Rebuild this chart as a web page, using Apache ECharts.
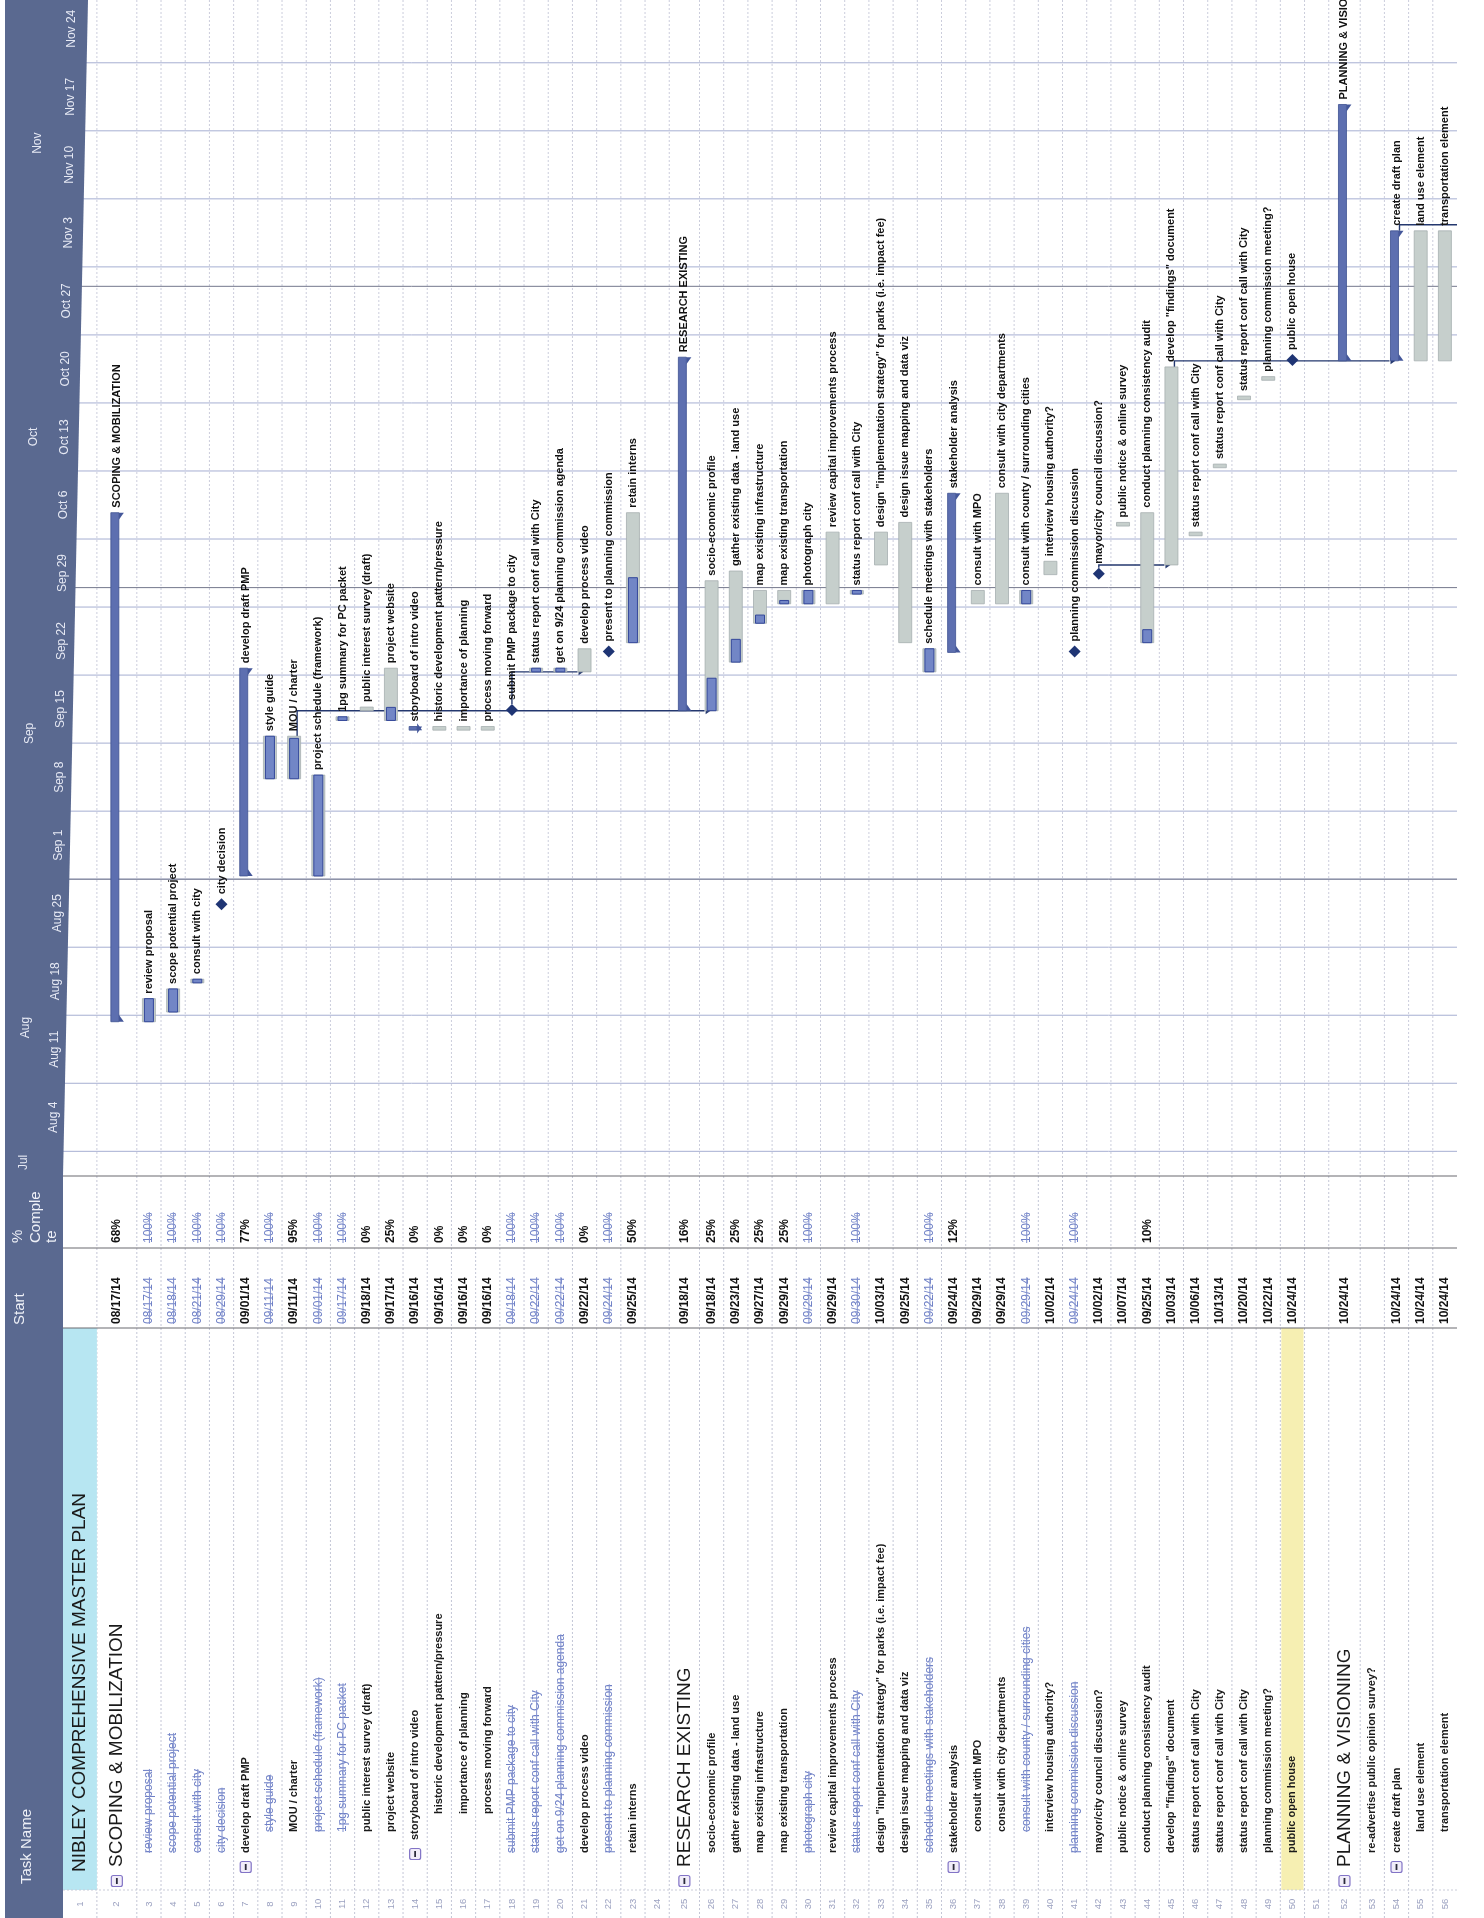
<!DOCTYPE html>
<html>
<head>
<meta charset="utf-8">
<title>Nibley Comprehensive Master Plan – Gantt</title>
<script src="https://cdn.jsdelivr.net/npm/echarts@6.0.0/dist/echarts.min.js"></script>
<style>
html,body{margin:0;padding:0;background:#fff;}
#chart{width:1484px;height:1918px;}
</style>
</head>
<body>
<div id="chart"></div>
<script>
// ---------------- DATA ----------------
const taskNames = [
  'NIBLEY COMPREHENSIVE MASTER PLAN',
  'SCOPING & MOBILIZATION',
  'review proposal',
  'scope potential project',
  'consult with city',
  'city decision',
  'develop draft PMP',
  'style guide',
  'MOU / charter',
  'project schedule (framework)',
  '1pg summary for PC packet',
  'public interest survey (draft)',
  'project website',
  'storyboard of intro video',
  'historic development pattern/pressure',
  'importance of planning',
  'process moving forward',
  'submit PMP package to city',
  'status report conf call with City',
  'get on 9/24 planning commission agenda',
  'develop process video',
  'present to planning commission',
  'retain interns',
  '',
  'RESEARCH EXISTING',
  'socio-economic profile',
  'gather existing data - land use',
  'map existing infrastructure',
  'map existing transportation',
  'photograph city',
  'review capital improvements process',
  'status report conf call with City',
  'design "implementation strategy" for parks (i.e. impact fee)',
  'design issue mapping and data viz',
  'schedule meetings with stakeholders',
  'stakeholder analysis',
  'consult with MPO',
  'consult with city departments',
  'consult with county / surrounding cities',
  'interview housing authority?',
  'planning commission discussion',
  'mayor/city council discussion?',
  'public notice & online survey',
  'conduct planning consistency audit',
  'develop "findings" document',
  'status report conf call with City',
  'status report conf call with City',
  'status report conf call with City',
  'planning commission meeting?',
  'public open house',
  '',
  'PLANNING & VISIONING',
  're-advertise public opinion survey?',
  'create draft plan',
  'land use element',
  'transportation element'
];
const outlineLevels = [0,1,2,2,2,2,2,3,3,3,3,3,3,3,4,4,4,2,2,2,2,2,2,2,1,
  2,2,2,2,2,2,2,2,2,2,2,3,3,3,3,2,2,2,2,2,2,2,2,2,2,2,1,2,2,3,3];
const startDates = ['', '08/17/14','08/17/14','08/18/14','08/21/14','08/29/14','09/01/14','09/11/14','09/11/14',
  '09/01/14','09/17/14','09/18/14','09/17/14','09/16/14','09/16/14','09/16/14','09/16/14','09/18/14','09/22/14',
  '09/22/14','09/22/14','09/24/14','09/25/14','', '09/18/14','09/18/14','09/23/14','09/27/14','09/29/14',
  '09/29/14','09/29/14','09/30/14','10/03/14','09/25/14','09/22/14','09/24/14','09/29/14','09/29/14','09/29/14',
  '10/02/14','09/24/14','10/02/14','10/07/14','09/25/14','10/03/14','10/06/14','10/13/14','10/20/14','10/22/14',
  '10/24/14','', '10/24/14','', '10/24/14','10/24/14','10/24/14'];
const finishDates = ['', '10/08/14','08/19/14','08/20/14','08/21/14','', '09/22/14','09/15/14','09/15/14',
  '09/11/14','09/17/14','09/18/14','09/22/14','09/16/14','09/16/14','09/16/14','09/16/14','', '09/22/14',
  '09/22/14','09/24/14','', '10/08/14','', '10/24/14','10/01/14','10/02/14','09/30/14','09/30/14',
  '09/30/14','10/06/14','09/30/14','10/06/14','10/07/14','09/24/14','10/10/14','09/30/14','10/10/14','09/30/14',
  '10/03/14','', '', '10/07/14','10/08/14','10/23/14','10/06/14','10/13/14','10/20/14','10/22/14',
  '', '', '11/19/14','', '11/06/14','11/06/14','11/06/14'];
const pctComplete = [null, 68,100,100,100,100,77,100,95,100,100,0,25,0,0,0,0,100,100,100,0,100,50,null,
  16,25,25,25,25,100,null,100,null,null,100,12,null,null,100,null,100,null,null,10,null,null,null,null,null,null,
  null,null,null,null,null,null];
const highlightRows = [50];
const dependencyLinks = [[9,26],[18,21],[42,45],[45,54],[54,null]];
const weekTickLabels = ['Aug 4','Aug 11','Aug 18','Aug 25','Sep 1','Sep 8','Sep 15','Sep 22','Sep 29',
  'Oct 6','Oct 13','Oct 20','Oct 27','Nov 3','Nov 10','Nov 17','Nov 24'];
const monthTickLabels = ['Jul','Aug','Sep','Oct','Nov'];
const columnHeaders = ['Task Name','Start'];
const pctHeaderLines = ['%','Comple','te'];

// ---------------- HELPERS ----------------
const DAY = 86400000;
const MON = {Jan:0,Feb:1,Mar:2,Apr:3,May:4,Jun:5,Jul:6,Aug:7,Sep:8,Oct:9,Nov:10,Dec:11};
const parseMDY = s => { const p = s.split('/').map(Number); return Date.UTC(2000 + p[2], p[0] - 1, p[1]); };
const parseTick = s => { const p = s.split(' '); return Date.UTC(2014, MON[p[0]], +p[1]); };
const FF = '"Liberation Sans", Arial, Helvetica, sans-serif';
const mctx = document.createElement('canvas').getContext('2d');
const textW = (t, font) => { mctx.font = font; return mctx.measureText(t).width; };

const N = taskNames.length;
const T_MIN = Date.UTC(2014, 7, 1) + 0.46 * DAY;
const T_MAX = T_MIN + 121 * DAY;
const frac = t => (t - T_MIN) / (T_MAX - T_MIN);

// row geometry (row units)
const sectionSpan = [1.65, 1.25, 1.3];
let secCount = 0;
const rowSpan = outlineLevels.map(l => l === 0 ? 1.4 : (l === 1 ? sectionSpan[secCount++] : 1));
const rowEdge = [0];
rowSpan.forEach(w => rowEdge.push(rowEdge[rowEdge.length - 1] + w));
const TOTAL = rowEdge[N];
const rowCenter = rowSpan.map((w, i) => rowEdge[i] + w / 2);
const isSummary = outlineLevels.map((l, i) => i > 0 && i < N - 1 && taskNames[i] !== '' && outlineLevels[i + 1] > l);

// bar times
const barStartT = [], barEndT = [], barKind = [];
for (let i = 0; i < N; i++) {
  if (i === 0 || !startDates[i]) { barKind.push(-1); barStartT.push(null); barEndT.push(null); continue; }
  const s = parseMDY(startDates[i]);
  if (!finishDates[i]) { barKind.push(2); barStartT.push(s + 0.42 * DAY); barEndT.push(s + 0.42 * DAY); continue; }
  barKind.push(isSummary[i] ? 1 : 0);
  barStartT.push(s + DAY / 3);
  barEndT.push(parseMDY(finishDates[i]) + 17 / 24 * DAY);
}
const barData = [];
for (let i = 0; i < N; i++) {
  if (barKind[i] < 0) continue;
  barData.push([i, rowCenter[i], barStartT[i], barEndT[i], pctComplete[i] || 0, barKind[i]]);
}

// ticks
const weekT = weekTickLabels.map(parseTick);
const monthStarts = [Date.UTC(2014,6,1), Date.UTC(2014,7,1), Date.UTC(2014,8,1), Date.UTC(2014,9,1), Date.UTC(2014,10,1), Date.UTC(2014,11,1)];
const monthLabelT = monthTickLabels.map((m, k) => {
  const a = Math.max(monthStarts[k], T_MIN), b = Math.min(monthStarts[k + 1], T_MAX);
  if (b - a < 2 * DAY) return T_MIN + 1.4 * DAY;
  return (a + b) / 2;
});
const monthLineT = monthStarts.filter(t => t > T_MIN && t < T_MAX);

// ---------------- RENDERERS ----------------
function renderRowLineA(params, api) {
  const e = api.value(0);
  const p0 = api.coord([e, T_MAX]), p1 = api.coord([e, T_MIN]);
  return {type: 'line', shape: {x1: p0[0], y1: p0[1], x2: p1[0], y2: p1[1]},
    style: {stroke: '#cbcddc', lineWidth: 1, lineDash: [2, 2]}};
}
function renderTimeLine(color, width) {
  return function (params, api) {
    const t = api.value(1);
    const p0 = api.coord([0, t]), p1 = api.coord([TOTAL, t]);
    return {type: 'line', shape: {x1: p0[0], y1: p0[1], x2: p1[0], y2: p1[1]},
      style: {stroke: color, lineWidth: width}};
  };
}
function renderBar(params, api) {
  const i = api.value(0), c = api.value(1), t0 = api.value(2), t1 = api.value(3), pct = api.value(4), kind = api.value(5);
  const pS = api.coord([c, t0]), pE = api.coord([c, t1]);
  const x = pS[0], yS = pS[1], yE = pE[1];
  const ch = [];
  let labelY;
  if (kind === 2) {
    const r = 6;
    ch.push({type: 'polygon', shape: {points: [[x, yS - r], [x + r, yS], [x, yS + r], [x - r, yS]]},
      style: {fill: '#1f3574'}});
    labelY = yS - r - 4;
  } else if (kind === 1) {
    ch.push({type: 'rect', shape: {x: x - 6, y: yE, width: 8, height: yS - yE},
      style: {fill: '#5d6fb0', stroke: '#3e5190', lineWidth: 0.8}});
    ch.push({type: 'polygon', shape: {points: [[x + 2, yE], [x + 7, yE], [x + 2, yE + 7]]}, style: {fill: '#44579a'}});
    ch.push({type: 'polygon', shape: {points: [[x + 2, yS], [x + 7, yS], [x + 2, yS - 7]]}, style: {fill: '#44579a'}});
    labelY = yE - 5;
  } else {
    ch.push({type: 'rect', shape: {x: x - 6.5, y: yE, width: 13, height: yS - yE},
      style: {fill: '#c6cfcc', stroke: '#a6afb0', lineWidth: 0.8}});
    if (pct > 0) {
      const yp = api.coord([c, t0 + (t1 - t0) * pct / 100])[1];
      ch.push({type: 'rect', shape: {x: x - 4.5, y: yp, width: 9, height: yS - yp},
        style: {fill: '#7286c6', stroke: '#33479a', lineWidth: 1}});
    }
    labelY = yE - 5;
  }
  ch.push({type: 'text', x: x, y: labelY, rotation: Math.PI / 2,
    style: {text: taskNames[i], fill: '#111', fontSize: 11, fontWeight: 'bold', fontFamily: FF, align: 'left', verticalAlign: 'middle'}});
  return {type: 'group', children: ch};
}
const linkData = dependencyLinks.map(([a, b]) => {
  const ia = a - 1;
  const xF = rowCenter[ia];
  const tF = barEndT[ia];
  let xT, tT;
  if (b === null) { xT = TOTAL; tT = Math.floor(tF / DAY) * DAY + DAY + DAY / 3; }
  else { xT = rowCenter[b - 1]; tT = barStartT[b - 1]; }
  return [xF, tF, xT, tT, barKind[ia], b === null ? 0 : 1];
});
function renderLink(params, api) {
  const pF = api.coord([api.value(0), api.value(1)]);
  const pT = api.coord([api.value(2), api.value(3)]);
  const isMs = api.value(4) === 2;
  const hasArrow = api.value(5) === 1;
  const xF = pF[0] + (isMs ? 0 : 3), yF = pF[1] - (isMs ? 6 : 0);
  const xT = pT[0] - (hasArrow ? 7 : 0), yT = pT[1];
  const ch = [{type: 'polyline', shape: {points: [[xF, yF], [xF, yT], [xT, yT]]},
    style: {stroke: '#24386f', lineWidth: 1.4, fill: null}}];
  if (hasArrow) ch.push({type: 'polygon', shape: {points: [[xT + 1, yT - 3.5], [xT + 6, yT], [xT + 1, yT + 3.5]]},
    style: {fill: '#24386f'}});
  return {type: 'group', children: ch};
}

// table (value axis: 0 = top of table at page y 1176, grows downward)
const COL = {pctTop: 0, pctBot: 72, startBot: 152, taskBot: 714, end: 742};
const textStartV = [696, 691, 677, 656, 638];
function renderTableRow(params, api) {
  const c = api.value(0), i = api.value(1);
  const X = api.coord([c, 0])[0];
  const Y = v => api.coord([c, v])[1];
  const w = api.size([rowSpan[i], 0])[0];
  const ch = [];
  if (i === 0) ch.push({type: 'rect', shape: {x: X - w / 2, y: Y(COL.startBot), width: w, height: Y(COL.taskBot) - Y(COL.startBot)},
    style: {fill: '#b7e6f2'}});
  if (highlightRows.indexOf(i + 1) >= 0) ch.push({type: 'rect', shape: {x: X - w / 2 + 1, y: Y(COL.startBot), width: w - 2, height: Y(COL.taskBot) - Y(COL.startBot)},
    style: {fill: '#f6efb2'}});
  ch.push({type: 'text', x: X, y: Y(728), rotation: Math.PI / 2,
    style: {text: String(i + 1), fill: '#9ba1c0', fontSize: 9.5, fontFamily: FF, align: 'center', verticalAlign: 'middle'}});
  const name = taskNames[i];
  const done = pctComplete[i] === 100;
  const L = outlineLevels[i];
  if (name) {
    let v = textStartV[L];
    if (isSummary[i]) {
      if (L >= 3) v += 8;
      const iy = Y(v + 14);
      ch.push({type: 'rect', shape: {x: X - 5.5, y: iy - 5.5, width: 11, height: 11, r: 2},
        style: {fill: '#f1edf9', stroke: '#8274c6', lineWidth: 1.2}});
      ch.push({type: 'line', shape: {x1: X, y1: iy - 3, x2: X, y2: iy + 3}, style: {stroke: '#2b2b3b', lineWidth: 1.8}});
    }
    const big = L <= 1;
    const fs = big ? 19 : (done ? 12 : 11);
    const fw = big || done ? 'normal' : 'bold';
    const fill = done ? '#6f80c6' : '#1a1a1a';
    ch.push({type: 'text', x: X, y: Y(v), rotation: Math.PI / 2,
      style: {text: name, fill: fill, fontSize: fs, fontWeight: fw, fontFamily: FF, align: 'left', verticalAlign: 'middle'}});
    if (done) {
      const tw = textW(name, fw + ' ' + fs + 'px ' + FF);
      ch.push({type: 'line', shape: {x1: X + 0.5, y1: Y(v), x2: X + 0.5, y2: Y(v) - tw}, style: {stroke: '#8291cf', lineWidth: 1}});
    }
  }
  const sd = startDates[i];
  if (sd) {
    const fw = done ? 'normal' : 'bold';
    ch.push({type: 'text', x: X, y: Y(148), rotation: Math.PI / 2,
      style: {text: sd, fill: done ? '#6f80c6' : '#111', fontSize: 12, fontWeight: fw, fontFamily: FF, align: 'left', verticalAlign: 'middle'}});
    if (done) {
      const tw = textW(sd, fw + ' 12px ' + FF);
      ch.push({type: 'line', shape: {x1: X + 0.5, y1: Y(148), x2: X + 0.5, y2: Y(148) - tw}, style: {stroke: '#8291cf', lineWidth: 1}});
    }
  }
  if (pctComplete[i] !== null) {
    const t = pctComplete[i] + '%';
    const fw = done ? 'normal' : 'bold';
    ch.push({type: 'text', x: X, y: Y(67), rotation: Math.PI / 2,
      style: {text: t, fill: done ? '#6f80c6' : '#111', fontSize: 12, fontWeight: fw, fontFamily: FF, align: 'left', verticalAlign: 'middle'}});
    if (done) {
      const tw = textW(t, fw + ' 12px ' + FF);
      ch.push({type: 'line', shape: {x1: X + 0.5, y1: Y(67), x2: X + 0.5, y2: Y(67) - tw}, style: {stroke: '#8291cf', lineWidth: 1}});
    }
  }
  return {type: 'group', children: ch};
}
function renderRowLineB(params, api) {
  const e = api.value(0);
  const p0 = api.coord([e, 0]), p1 = api.coord([e, COL.end]);
  return {type: 'line', shape: {x1: p0[0], y1: p0[1], x2: p1[0], y2: p1[1]},
    style: {stroke: '#c3c6d6', lineWidth: 1, lineDash: [2, 2]}};
}
function renderColLine(params, api) {
  const v = api.value(1);
  const p0 = api.coord([0, v]), p1 = api.coord([TOTAL, v]);
  const light = v === COL.taskBot;
  return {type: 'line', shape: {x1: p0[0], y1: p0[1], x2: p1[0], y2: p1[1]},
    style: {stroke: light ? '#c9ccd8' : '#6b6b70', lineWidth: light ? 1 : 1.2, lineDash: light ? [2, 2] : null}};
}
// header band of the timescale (slightly wider toward the top, as on the scan)
const BAND_W_TOP = 83, BAND_W_BOTTOM = 58;
function renderBandBg(params, api) {
  const a = api.coord([0, T_MAX]), b = api.coord([BAND_W_TOP, T_MAX]);
  const c = api.coord([BAND_W_BOTTOM, T_MIN]), d = api.coord([0, T_MIN]);
  return {type: 'polygon', shape: {points: [a, b, c, d]}, style: {fill: '#5a6990'}};
}
function renderBandTick(params, api) {
  const p = api.coord([api.value(0), api.value(1)]);
  const k = api.value(2), tier = api.value(3);
  const text = tier === 0 ? monthTickLabels[k] : weekTickLabels[k];
  return {type: 'text', x: p[0], y: p[1], rotation: Math.PI / 2,
    style: {text: text, fill: '#e6e9f4', fontSize: 12, fontFamily: FF, align: 'center', verticalAlign: 'middle'}};
}
function renderHeader(params, api) {
  const p = api.coord([api.value(0), api.value(1)]);
  const k = api.value(2);
  const text = k < 2 ? columnHeaders[k] : pctHeaderLines[k - 2];
  return {type: 'text', x: p[0], y: p[1], rotation: Math.PI / 2,
    style: {text: text, fill: '#eef0f7', fontSize: 15, fontFamily: FF, align: 'left', verticalAlign: 'middle'}};
}

// ---------------- CHART ----------------
const chart = echarts.init(document.getElementById('chart'), null, {renderer: 'canvas'});
const bandColor = '#5a6990';
chart.setOption({
  animation: false,
  backgroundColor: '#ffffff',
  grid: [
    {left: 63, right: 27, top: 0, height: 1176, show: false},
    {left: 63, right: 27, top: 1176, bottom: 0, show: false},
    {left: 5, width: BAND_W_TOP, top: 0, height: 1176, show: false},
    {left: 5, width: 58, top: 1176, bottom: 0, show: true, backgroundColor: bandColor, borderWidth: 0}
  ],
  xAxis: [
    {type: 'value', gridIndex: 0, min: 0, max: TOTAL, show: false},
    {type: 'value', gridIndex: 1, min: 0, max: TOTAL, show: false},
    {type: 'value', gridIndex: 2, min: 0, max: BAND_W_TOP, show: false},
    {type: 'value', gridIndex: 3, min: 0, max: 58, show: false}
  ],
  yAxis: [
    {type: 'time', gridIndex: 0, min: T_MIN, max: T_MAX, show: false},
    {type: 'value', gridIndex: 1, min: 0, max: COL.end, inverse: true, show: false},
    {type: 'time', gridIndex: 2, min: T_MIN, max: T_MAX, show: false},
    {type: 'value', gridIndex: 3, min: 0, max: COL.end, inverse: true, show: false}
  ],
  series: [
    {type: 'custom', name: 'row separators', xAxisIndex: 0, yAxisIndex: 0, silent: true, z: 1,
      data: rowEdge.slice(1, N).map(e => [e, T_MIN]), renderItem: renderRowLineA},
    {type: 'custom', name: 'weeks', xAxisIndex: 0, yAxisIndex: 0, silent: true, z: 2,
      data: weekT.map(t => [0, t]), renderItem: renderTimeLine('#a6afd2', 1)},
    {type: 'custom', name: 'months', xAxisIndex: 0, yAxisIndex: 0, silent: true, z: 2,
      data: monthLineT.map(t => [0, t]), renderItem: renderTimeLine('#74788c', 1)},
    {type: 'custom', name: 'links', xAxisIndex: 0, yAxisIndex: 0, silent: true, z: 4,
      data: linkData, renderItem: renderLink},
    {type: 'custom', name: 'bars', xAxisIndex: 0, yAxisIndex: 0, silent: true, z: 5,
      data: barData, renderItem: renderBar},
    {type: 'custom', name: 'table rows', xAxisIndex: 1, yAxisIndex: 1, silent: true, z: 3,
      data: rowCenter.map((c, i) => [c, i]), renderItem: renderTableRow},
    {type: 'custom', name: 'table row lines', xAxisIndex: 1, yAxisIndex: 1, silent: true, z: 2,
      data: rowEdge.slice(1, N).map(e => [e, 0]), renderItem: renderRowLineB},
    {type: 'custom', name: 'table col lines', xAxisIndex: 1, yAxisIndex: 1, silent: true, z: 4,
      data: [COL.pctTop, COL.pctBot, COL.startBot, COL.taskBot].map(v => [0, v]), renderItem: renderColLine},
    {type: 'custom', name: 'timescale band', xAxisIndex: 2, yAxisIndex: 2, silent: true, z: 3,
      data: [[0, T_MIN]], renderItem: renderBandBg},
    {type: 'custom', name: 'timescale', xAxisIndex: 2, yAxisIndex: 2, silent: true, z: 6,
      data: monthLabelT.map((t, k) => [19 + 16 * frac(t), t, k, 0])
        .concat(weekT.map((t, k) => [48 + 19 * frac(t + 3.5 * DAY), t + 3.5 * DAY, k, 1])),
      renderItem: renderBandTick},
    {type: 'custom', name: 'headers', xAxisIndex: 3, yAxisIndex: 3, silent: true, z: 5,
      data: [[22, 708, 0], [15, 149, 1], [13, 67, 2], [31, 67, 3], [47, 67, 4]],
      renderItem: renderHeader}
  ]
});
</script>
</body>
</html>
